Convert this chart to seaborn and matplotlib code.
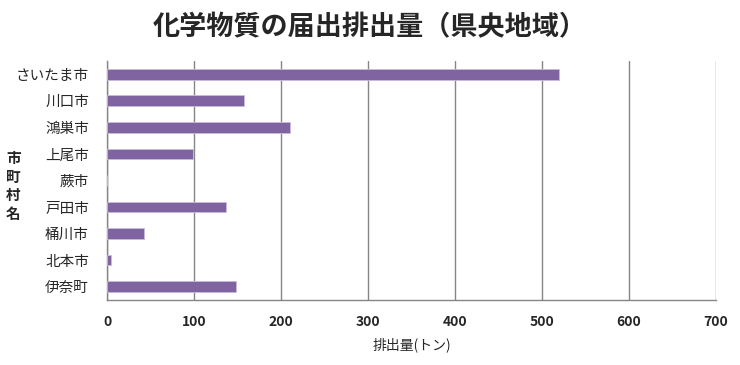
import numpy as np
import pandas as pd
import matplotlib
matplotlib.use("Agg")
import matplotlib.pyplot as plt
import seaborn as sns

cities = ["さいたま市", "川口市", "鴻巣市", "上尾市", "蕨市", "戸田市", "桶川市", "北本市", "伊奈町"]
emissions = [520, 158, 210, 99, 0, 137, 42, 5, 148]

sns.set_style("white")
plt.rcParams['font.family'] = ['Noto Sans CJK JP', 'DejaVu Sans']

df = pd.DataFrame({"city": cities, "amount": emissions})

fig = plt.figure(figsize=(7.4, 3.65), dpi=100)
ax = fig.add_axes([0.1446, 0.178, 0.823, 0.655])

sns.barplot(data=df, x="amount", y="city", color="#8064A2", saturation=1,
            width=0.4, edgecolor="#c9bcdb", linewidth=0.6, ax=ax, zorder=3)

ax.set_xlim(0, 700)
ax.set_xticks(np.arange(0, 701, 100))
ax.set_ylim(len(cities) - 0.5, -0.5)
ax.xaxis.grid(True, color="#868686", linewidth=1.0, zorder=0)
ax.yaxis.grid(False)

for side in ["top", "right"]:
    ax.spines[side].set_visible(False)
for side in ["left", "bottom"]:
    ax.spines[side].set_color("#868686")
    ax.spines[side].set_linewidth(1.0)

# category ticks sit between bars
ax.set_yticks(np.arange(-0.5, len(cities), 1), minor=True)
ax.tick_params(axis="y", which="major", length=0, pad=13, labelsize=10.5)
ax.tick_params(axis="y", which="minor", length=5, color="#868686", direction="out")
ax.tick_params(axis="x", which="major", length=5, color="#868686", direction="out",
               labelsize=10, pad=6)
for lbl in ax.get_xticklabels():
    lbl.set_fontweight("bold")

ax.set_ylabel("")
ax.set_xlabel("排出量(トン)", fontsize=10, labelpad=6)
fig.text(0.018, 0.49, "市\n町\n村\n名", fontsize=10.5, fontweight="bold",
         ha="center", va="center", linespacing=1.2)

fig.suptitle("化学物質の届出排出量（県央地域）", fontsize=19.5, fontweight="bold",
             x=0.50, y=0.965)

fig.savefig("out.png", dpi=100)
